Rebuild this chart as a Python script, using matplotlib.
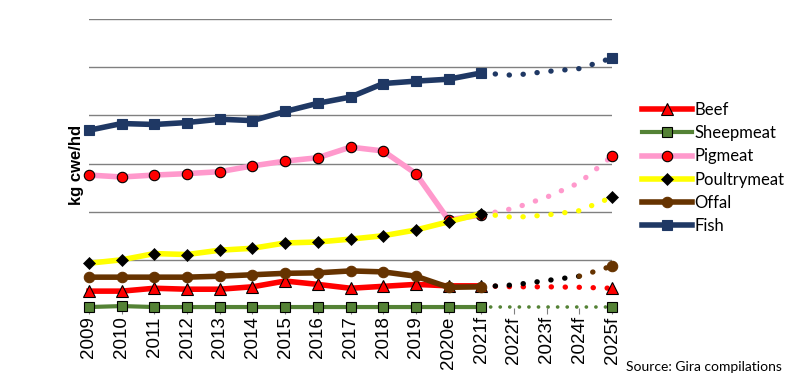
# ========================================
# 1인당 육류/수산물 소비량 추이 (2009 ~ 2025f)
# ========================================

import matplotlib
matplotlib.use('Agg')
import matplotlib.pyplot as plt

plt.rcParams['font.family'] = ['Liberation Sans', 'DejaVu Sans']

# ========================
# 데이터
# ========================
years = ['2009', '2010', '2011', '2012', '2013', '2014', '2015', '2016', '2017',
         '2018', '2019', '2020e', '2021f', '2022f', '2023f', '2024f', '2025f']

beef = [0.35, 0.35, 0.41, 0.39, 0.39, 0.44, 0.56, 0.49, 0.41,
        0.45, 0.49, 0.46, 0.46, 0.44, 0.44, 0.43, 0.41]
sheepmeat = [0.02, 0.04, 0.02, 0.02, 0.02, 0.02, 0.02, 0.02, 0.02,
             0.02, 0.02, 0.02, 0.02, 0.02, 0.02, 0.02, 0.02]
pigmeat = [2.76, 2.72, 2.76, 2.79, 2.83, 2.95, 3.05, 3.12, 3.34,
           3.26, 2.79, 1.83, 1.93, 2.07, 2.30, 2.60, 3.15]
poultrymeat = [0.93, 1.00, 1.13, 1.11, 1.20, 1.24, 1.35, 1.37, 1.43,
               1.50, 1.62, 1.79, 1.96, 1.88, 1.93, 2.02, 2.30]
offal = [0.64, 0.64, 0.64, 0.64, 0.66, 0.69, 0.72, 0.73, 0.77,
         0.75, 0.66, 0.43, 0.44, 0.48, 0.57, 0.66, 0.87]
fish = [3.69, 3.83, 3.81, 3.85, 3.92, 3.89, 4.08, 4.25, 4.38,
        4.66, 4.71, 4.75, 4.88, 4.83, 4.91, 4.97, 5.19]

last_actual = 12  # 2021f 까지 실선, 이후 점선

# ========================
# 스타일
# ========================
series = [
    ('Beef', beef, '#FF0000', dict(marker='^', ms=8, mfc='#FF0000', mec='black', mew=0.8), 4),
    ('Sheepmeat', sheepmeat, '#548235', dict(marker='s', ms=7, mfc='#548235', mec='black', mew=0.8), 3),
    ('Pigmeat', pigmeat, '#FF99CC', dict(marker='o', ms=7.5, mfc='#FF0000', mec='black', mew=0.8), 4),
    ('Poultrymeat', poultrymeat, '#FFFF00', dict(marker='D', ms=6, mfc='black', mec='black', mew=0.5), 4),
    ('Offal', offal, '#663300', dict(marker='o', ms=7.5, mfc='#663300', mec='#663300', mew=0.8), 4),
    ('Fish', fish, '#1F3864', dict(marker='s', ms=7.5, mfc='#1F3864', mec='#1F3864', mew=0.8), 4),
]

fig = plt.figure(figsize=(7.97, 3.84), dpi=100)
ax = fig.add_axes([89 / 797, 1 - 308 / 384, (612 - 89) / 797, (308 - 19) / 384])

x = list(range(len(years)))
xa = x[:last_actual + 1]
xf = x[last_actual:]
dot = (0, (0.05, 2.6))

for i, (name, vals, color, mk, lw) in enumerate(series):
    z = 3 + i
    ax.plot(xa, vals[:last_actual + 1], color=color, lw=lw, label=name,
            zorder=z, clip_on=False, **mk)
    dlw = 2.6 if name == 'Sheepmeat' else 3.8
    zf = z - 0.5
    if name == 'Offal':
        # 2024f 까지 점선이 검은색으로 표시됨
        ax.plot(xf[:-1], vals[last_actual:-1], color='black', lw=dlw, ls=dot,
                dash_capstyle='round', zorder=zf, clip_on=False)
        ax.plot(xf[-2:], vals[-2:], color=color, lw=dlw, ls=dot,
                dash_capstyle='round', zorder=zf, clip_on=False)
    else:
        ax.plot(xf, vals[last_actual:], color=color, lw=dlw, ls=dot,
                dash_capstyle='round', zorder=zf, clip_on=False)
    ax.plot([x[-1]], [vals[-1]], ls='none', zorder=z, clip_on=False, **mk)

ax.set_xlim(0, len(years) - 1)
ax.set_ylim(0, 6)
ax.set_yticks([1, 2, 3, 4, 5, 6])
ax.yaxis.grid(True, color='#808080', lw=1)
ax.set_axisbelow(True)
ax.tick_params(axis='y', left=False, labelleft=False)
ax.set_xticks(x)
ax.set_xticklabels(years, rotation=90, fontsize=13.5)
ax.tick_params(axis='x', length=4, color='#808080', pad=2)
for s in ax.spines.values():
    s.set_visible(False)

fig.text(76 / 797, 1 - 165 / 384, 'kg cwe/hd', rotation=90, fontsize=12,
         fontweight='bold', ha='center', va='center')

leg = ax.legend(loc='upper left', bbox_to_anchor=(642 / 797, 1 - 102 / 384),
                bbox_transform=fig.transFigure, frameon=False, numpoints=1,
                handlelength=3.0, handletextpad=0.15, labelspacing=0.43,
                borderpad=0, borderaxespad=0,
                prop={'family': ['Lato', 'DejaVu Sans'], 'size': 12})

fig.text(782 / 797, 1 - 367 / 384, 'Source: Gira compilations', fontsize=10,
         family=['Lato', 'DejaVu Sans'], ha='right', va='center')

fig.savefig('out.png', dpi=100)
